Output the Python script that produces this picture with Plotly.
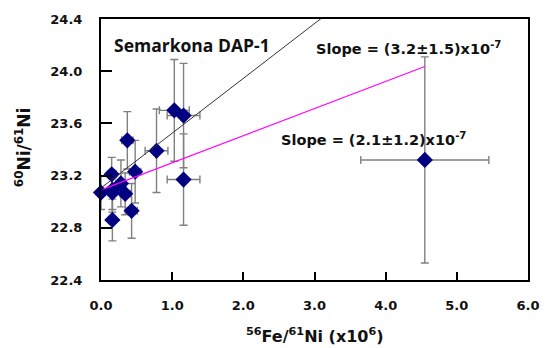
import plotly.graph_objects as go

# Data (56Fe/61Ni in units of 1e6, 60Ni/61Ni)
fe_ni = [0.00, 0.15, 0.16, 0.16, 0.28, 0.34, 0.43, 0.16, 0.48, 0.37, 0.78, 1.03, 1.16, 1.16, 4.55]
ni_ratio = [23.07, 23.21, 23.09, 23.07, 23.14, 23.06, 22.93, 22.86, 23.23, 23.47, 23.39, 23.70, 23.66, 23.17, 23.32]
x_err = [0.05, 0.06, 0.06, 0.06, 0.07, 0.07, 0.08, 0.05, 0.08, 0.08, 0.16, 0.21, 0.23, 0.23, 0.90]
y_err = [0.13, 0.13, 0.15, 0.15, 0.18, 0.16, 0.21, 0.16, 0.24, 0.22, 0.32, 0.39, 0.40, 0.35, 0.79]

# Regression lines (intercept, slope in plot units) and x extent
fit_black = dict(intercept=23.105, slope=0.42, x=[0.03, 3.2])
fit_magenta = dict(intercept=23.09, slope=0.208, x=[0.03, 4.55])

x_ticks = [0, 1, 2, 3, 4, 5, 6]
y_ticks = [22.4, 22.8, 23.2, 23.6, 24.0, 24.4]

FONT = "DejaVu Sans, Liberation Sans, sans-serif"
TXT = "#111111"

fig = go.Figure()

fig.add_trace(go.Scatter(
    x=fe_ni, y=ni_ratio, mode="markers",
    marker=dict(symbol="diamond", size=12.5, color="#000080", line=dict(width=0)),
    error_x=dict(type="data", array=x_err, color="#808080", thickness=1.4, width=4),
    error_y=dict(type="data", array=y_err, color="#808080", thickness=1.4, width=4),
    showlegend=False, cliponaxis=False,
))

for fit, col, w in [(fit_black, "#333333", 1.0), (fit_magenta, "#FF00FF", 1.2)]:
    xs = fit["x"]
    ys = [fit["intercept"] + fit["slope"] * v for v in xs]
    fig.add_trace(go.Scatter(x=xs, y=ys, mode="lines",
                             line=dict(color=col, width=w), showlegend=False))

fig.add_annotation(x=0.16, y=24.2, xref="x", yref="y", text="<b>Semarkona DAP-1</b>",
                   showarrow=False, xanchor="left", yanchor="middle",
                   font=dict(family="Open Sans, Lato, sans-serif", size=17.5, color=TXT))
fig.add_annotation(x=2.99, y=24.18, xref="x", yref="y",
                   text="<b>Slope = (3.2±1.5)x10<sup>-7</sup></b>",
                   showarrow=False, xanchor="left", yanchor="middle",
                   font=dict(family=FONT, size=14.5, color=TXT))
fig.add_annotation(x=2.5, y=23.48, xref="x", yref="y",
                   text="<b>Slope = (2.1±1.2)x10<sup>-7</sup></b>",
                   showarrow=False, xanchor="left", yanchor="middle",
                   font=dict(family=FONT, size=14.5, color=TXT))

# Axis titles placed as annotations
fig.add_annotation(x=0.501, y=-0.212, xref="paper", yref="paper",
                   text="<b><sup>56</sup>Fe/<sup>61</sup>Ni (x10<sup>6</sup>)</b>",
                   showarrow=False, xanchor="center", yanchor="middle",
                   font=dict(family=FONT, size=16, color=TXT))
fig.add_annotation(x=-0.181, y=0.508, xref="paper", yref="paper", textangle=-90,
                   text="<b><sup>60</sup>Ni/<sup>61</sup>Ni</b>",
                   showarrow=False, xanchor="center", yanchor="middle",
                   font=dict(family=FONT, size=17, color=TXT))

axis_common = dict(showgrid=False, zeroline=False, showline=True, linecolor="black",
                   linewidth=2, mirror=True, ticks="inside", tickcolor="black",
                   tickwidth=2, tickfont=dict(family=FONT, size=13, color=TXT))

fig.update_xaxes(range=[0, 6], tickvals=x_ticks, ticktext=[f"<b>{v:.1f}</b>" for v in x_ticks],
                 ticklen=8, ticklabelstandoff=12, **axis_common)
fig.update_yaxes(range=[22.4, 24.4], tickvals=y_ticks, ticktext=[f"<b>{v:.1f}</b>" for v in y_ticks],
                 ticklen=11, ticklabelstandoff=14, **axis_common)

fig.update_layout(width=552, height=348, margin=dict(l=101, r=14, t=18, b=68),
                  paper_bgcolor="white", plot_bgcolor="white")

fig.write_html("out.html")
